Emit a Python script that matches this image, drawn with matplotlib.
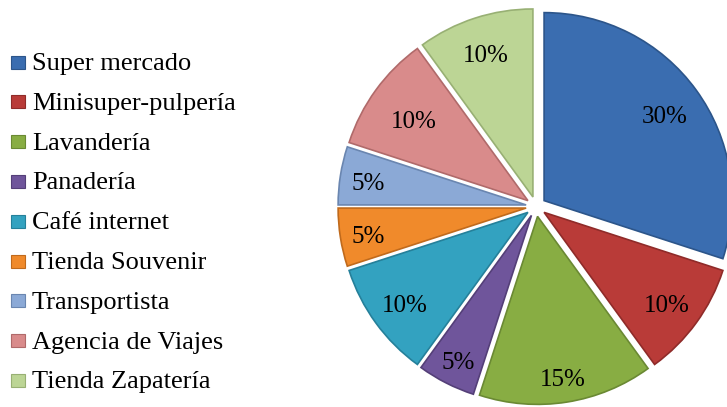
import matplotlib.pyplot as plt
import matplotlib.patches as mpatches
import numpy as np

# ================= Data =================
categories = ['Super mercado', 'Minisuper-pulpería', 'Lavandería', 'Panadería',
              'Café internet', 'Tienda Souvenir', 'Transportista',
              'Agencia de Viajes', 'Tienda Zapatería']
shares = [30, 10, 15, 5, 10, 5, 5, 10, 10]

colors = ['#3a6db0', '#b93b38', '#88ad43', '#6f559b', '#33a2c0',
          '#f08a2b', '#8ba9d6', '#d98b8b', '#bcd595']
edge_colors = ['#2c558a', '#8f2b29', '#6a8933', '#543f78', '#25809a',
               '#c06a1c', '#6a86b0', '#b06a6a', '#98b074']

# label distance (fraction of radius) per slice, tuned to the original layout
label_dist = [0.79, 0.81, 0.86, 0.86, 0.81, 0.85, 0.85, 0.75, 0.81]

# ================= Plot =================
W, H = 727, 407
fig = plt.figure(figsize=(W / 100, H / 100), dpi=100)
ax = fig.add_axes([0, 0, 1, 1])

cx, cy, r = 536, 200.5, 188
expl = 10

wedges, _ = ax.pie(shares, colors=colors, startangle=90, counterclock=False,
                   center=(cx, cy), radius=r, explode=[expl] * len(shares),
                   wedgeprops=dict(linewidth=1.2), frame=True)

for w, ec in zip(wedges, edge_colors):
    w.set_edgecolor(ec)

# percentage labels
total = sum(shares)
start = 90.0
for i, (v, w) in enumerate(zip(shares, wedges)):
    ang = np.deg2rad(start - 360.0 * v / total / 2)
    start -= 360.0 * v / total
    x = cx + (expl + label_dist[i] * r) * np.cos(ang)
    y = cy + (expl + label_dist[i] * r) * np.sin(ang) - 4
    ax.text(x, y, f'{v}%', ha='center', va='center', fontsize=18,
            family='Liberation Serif', color='black')

# legend drawn manually to match original spacing
y0, step = H - 62, 39.8
for i, (name, c, ec) in enumerate(zip(categories, colors, edge_colors)):
    yc = y0 - i * step
    ax.add_patch(mpatches.Rectangle((11, yc - 6.5), 14, 13, facecolor=c,
                                    edgecolor=ec, linewidth=0.8))
    ax.text(32, yc - 8, name, ha='left', va='baseline', fontsize=19,
            family='Liberation Serif', color='black')

ax.set_xlim(0, W)
ax.set_ylim(0, H)
ax.set_aspect('equal')
ax.axis('off')

plt.savefig('out.png', dpi=100)
